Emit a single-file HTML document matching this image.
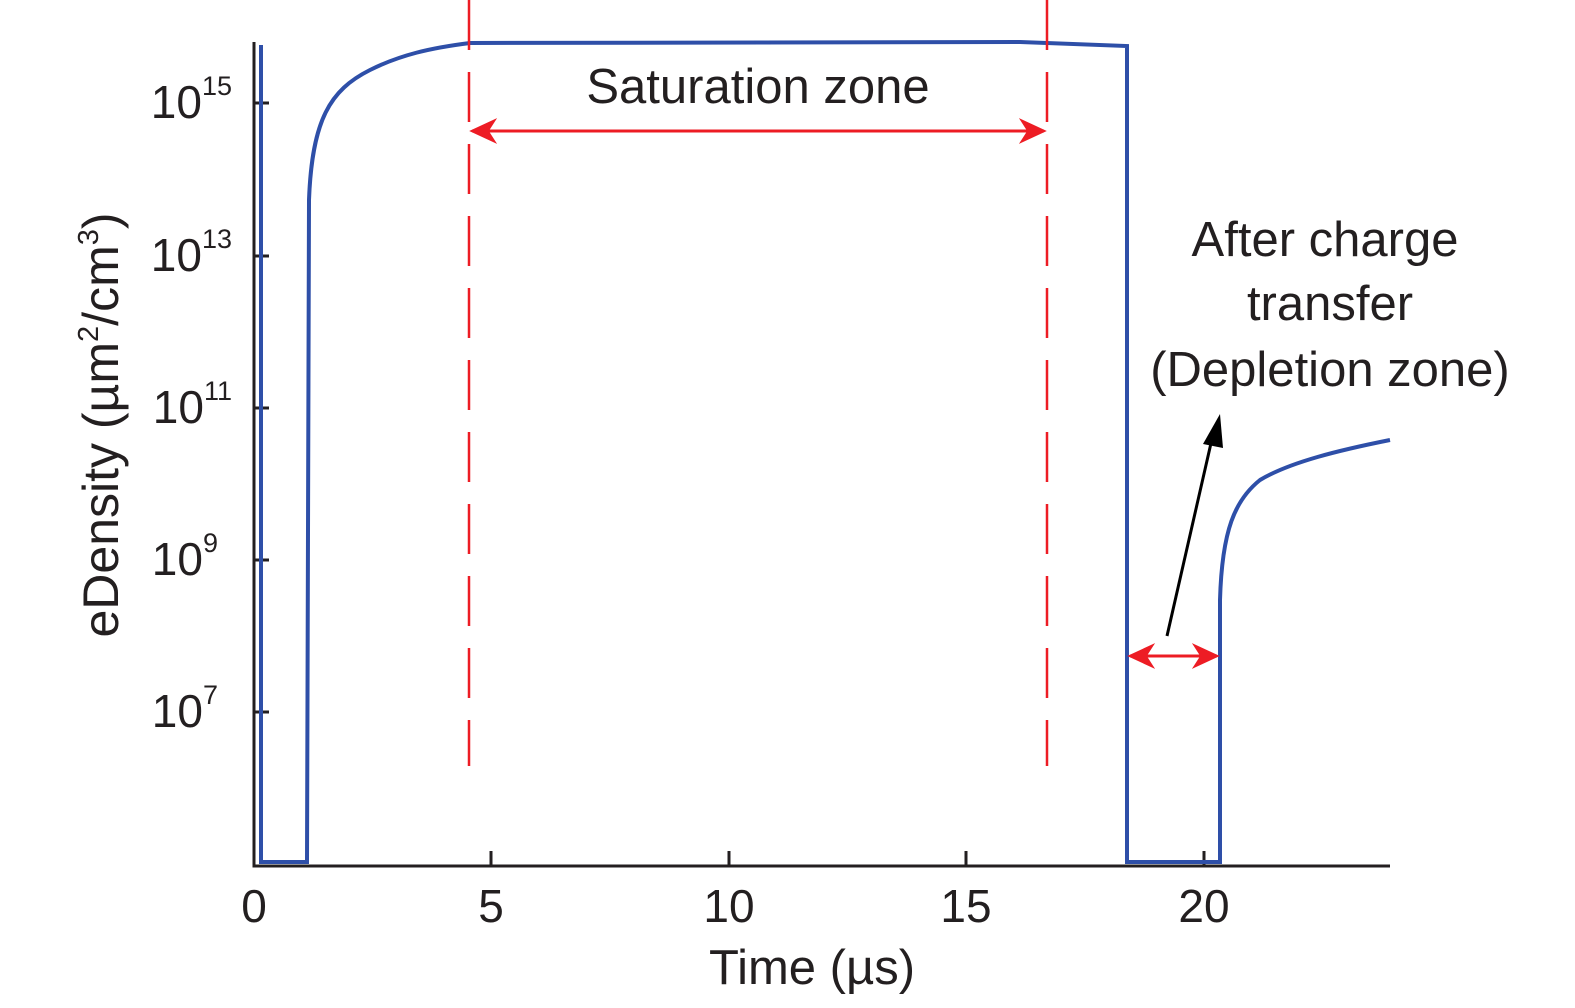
<!DOCTYPE html>
<html><head><style>body{margin:0;background:#fff}svg{display:block}text{font-family:"Liberation Sans",sans-serif;fill:#231f20}</style></head><body>
<svg width="1575" height="1008" viewBox="0 0 1575 1008" xmlns="http://www.w3.org/2000/svg">
<defs>
<marker id="ah" viewBox="0 0 10 10" refX="9" refY="5" markerWidth="28" markerHeight="26" orient="auto-start-reverse" markerUnits="userSpaceOnUse" preserveAspectRatio="none"><path d="M0,0 L10,5 L0,10 L3,5 Z" fill="#ed1c24"/></marker>
</defs>
<g stroke="#231f20" stroke-width="3" fill="none">
<path d="M254,42 V866 H1390"/>
<path d="M254,103 h15 M254,256 h15 M254,408 h15 M254,560 h15 M254,712 h15"/>
<path d="M491,866 v-15 M729,866 v-15 M966,866 v-15 M1204,866 v-15"/>
</g>
<g font-size="46" text-anchor="end">
<text x="232" y="118">10<tspan font-size="27" dy="-23">15</tspan></text>
<text x="232" y="271">10<tspan font-size="27" dy="-23">13</tspan></text>
<text x="232" y="423">10<tspan font-size="27" dy="-23">11</tspan></text>
<text x="218" y="575">10<tspan font-size="27" dy="-23">9</tspan></text>
<text x="218" y="727">10<tspan font-size="27" dy="-23">7</tspan></text>
</g>
<g font-size="46" text-anchor="middle">
<text x="254" y="922">0</text><text x="491" y="922">5</text><text x="729" y="922">10</text><text x="966" y="922">15</text><text x="1204" y="922">20</text>
</g>
<g font-size="49" text-anchor="middle">
<text x="812" y="984">Time (µs)</text>
<text x="758" y="103">Saturation zone</text>
<text x="1325" y="256">After charge</text>
<text x="1330" y="320">transfer</text>
<text x="1330" y="386">(Depletion zone)</text>
</g>
<text font-size="50" text-anchor="middle" transform="translate(118,425) rotate(-90)">eDensity (µm<tspan font-size="29" dy="-20">2</tspan><tspan dy="20">/cm</tspan><tspan font-size="29" dy="-20">3</tspan><tspan dy="20">)</tspan></text>
<path d="M261,45 V862 H307 L309,200 C312,120 330,90 370,70 C400,55 430,48 470,43 L1020,42 L1127,46 V862 H1220 V600 C1222,530 1235,500 1260,480 C1290,462 1340,450 1390,440" stroke="#2e4fa8" stroke-width="4" fill="none"/>
<g stroke="#ed1c24" stroke-width="2.5" fill="none">
<path d="M469,0 V766 M1047,0 V766" stroke-dasharray="50,22"/>
<path d="M472,131 H1044" marker-start="url(#ah)" marker-end="url(#ah)" stroke-width="3"/>
<path d="M1130,656 H1217" marker-start="url(#ah)" marker-end="url(#ah)" stroke-width="3"/>
</g>
<path d="M1167,636 L1214,430" stroke="#000" stroke-width="3"/>
<path d="M1220,414 L1203,444 L1223,448 Z" fill="#000"/>
</svg>
</body></html>
